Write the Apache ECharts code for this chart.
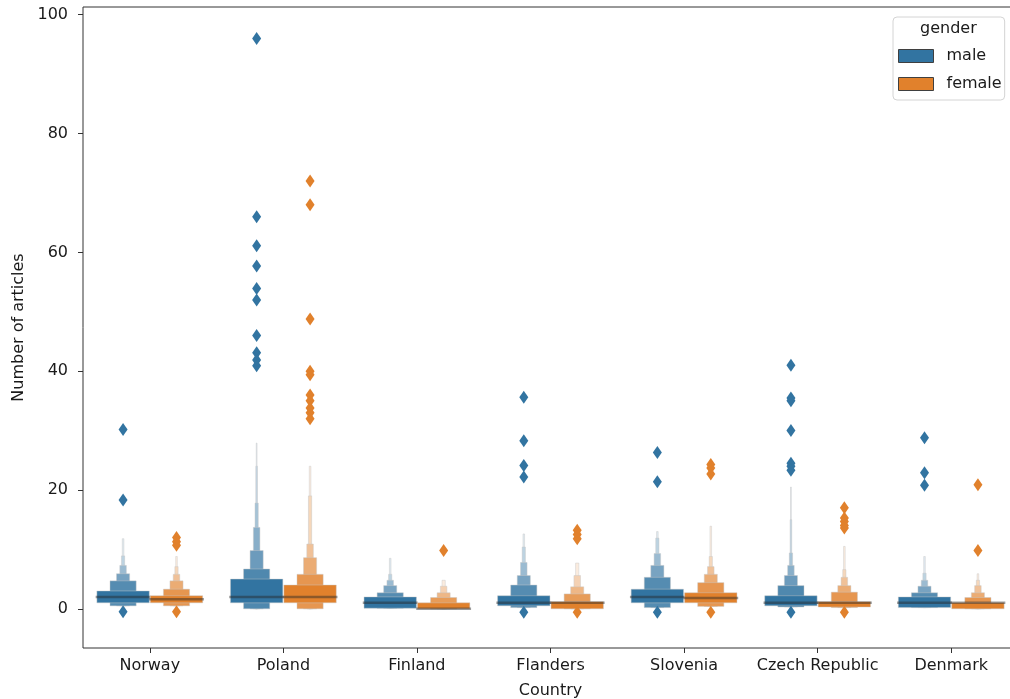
<!DOCTYPE html>
<html>
<head>
<meta charset="utf-8">
<script src="https://cdn.jsdelivr.net/npm/echarts@6/dist/echarts.min.js"></script>
<style>
  html, body { margin: 0; padding: 0; background: #fff; }
  #chart { width: 1010px; height: 699px; }
</style>
</head>
<body>
<div id="chart"></div>
<script>
// Countries on the x axis and the two hue groups
const countries = ['Norway', 'Poland', 'Finland', 'Flanders', 'Slovenia', 'Czech Republic', 'Denmark'];
const genders = ['male', 'female'];
const yTicks = [0, 20, 40, 60, 80, 100];

// Letter-value boxes per country, innermost (quartiles) first: [low, high]
const maleBoxes = [
  [[1, 3], [0.5, 4.7], [0.5, 5.9], [0.5, 7.3], [0.5, 8.9], [0.5, 11.8]],
  [[1, 5], [0, 6.7], [0, 9.8], [0, 13.7], [0, 17.8], [0, 24], [0, 27.9]],
  [[0.1, 2], [0.1, 2.7], [0.1, 3.9], [0.1, 4.8], [0.1, 5.8], [0.1, 8.5]],
  [[0.5, 2.2], [0.2, 4], [0.2, 5.6], [0.2, 7.8], [0.2, 10.4], [0.2, 12.6]],
  [[1, 3.3], [0.2, 5.3], [0.2, 7.3], [0.2, 9.3], [0.2, 11.9], [0.2, 13]],
  [[0.5, 2.2], [0.3, 3.9], [0.3, 5.6], [0.3, 7.3], [0.3, 9.4], [0.3, 15], [0.3, 20.5]],
  [[0.2, 2], [0.2, 2.7], [0.2, 3.8], [0.2, 4.8], [0.2, 6], [0.2, 8.8]]
];
const femaleBoxes = [
  [[1, 2.2], [0.5, 3.3], [0.5, 4.7], [0.5, 5.8], [0.5, 7.1], [0.5, 8.8]],
  [[1, 4], [0, 5.8], [0, 8.6], [0, 10.9], [0, 19], [0, 24]],
  [[0, 1], [0, 1.9], [0, 2.7], [0, 3.8], [0, 4.8]],
  [[0, 1.2], [0, 2.5], [0, 3.7], [0, 5.6], [0, 7.7]],
  [[1, 2.7], [0.4, 4.4], [0.4, 5.8], [0.4, 7.1], [0.4, 8.8], [0.4, 13.9]],
  [[0.3, 1.2], [0.2, 2.8], [0.2, 3.9], [0.2, 5.3], [0.2, 6.6], [0.2, 10.5]],
  [[0, 1], [0, 1.9], [0, 2.7], [0, 3.9], [0, 4.8], [0, 5.9]]
];

// Medians per country
const maleMedians = [2, 2, 1, 1, 2, 1, 1];
const femaleMedians = [1.6, 2, 0, 1, 1.8, 1, 1];

// Outlying observations per country
const maleOutliers = [
  [30.2, 18.3, -0.5],
  [96, 66, 61.1, 57.7, 53.9, 52, 46, 43.1, 41.9, 40.9],
  [],
  [35.6, 28.3, 24.1, 22.2, -0.6],
  [26.3, 21.4, -0.6],
  [41, 35.5, 35, 30, 24.5, 24, 23.3, -0.6],
  [28.8, 22.9, 20.8]
];
const femaleOutliers = [
  [12, 11.3, 10.7, -0.5],
  [72, 68, 48.8, 40, 39.4, 36, 35, 33.8, 33, 32],
  [9.8],
  [13.2, 12.5, 11.8, -0.6],
  [24.3, 23.7, 22.7, -0.6],
  [17, 15.3, 14.7, 14, 13.6, -0.6],
  [20.9, 9.8]
];

const MALE = '#3274a1';
const FEMALE = '#e1812c';
const EDGE_GRAY = '#3f3f3f';
const FONT = 'DejaVu Sans';
const TEXT = '#1a1a1a';
const NESTED = 0.392;   // width of one hue box, in category units
const DODGE = 0.2;      // hue offset from the category centre

function hexToRgb(h) {
  return [parseInt(h.slice(1, 3), 16), parseInt(h.slice(3, 5), 16), parseInt(h.slice(5, 7), 16)];
}
function towardWhite(hex, t) {
  const c = hexToRgb(hex).map(v => Math.round(v + (255 - v) * t));
  return 'rgb(' + c.join(',') + ')';
}

function boxenRenderer(boxesArr, medians, color, offset) {
  return function (params, api) {
    const ci = params.dataIndex;
    const boxes = boxesArr[ci];
    const cx = ci + offset;
    const fullW = api.size([NESTED, 0])[0];
    const n = boxes.length;
    const children = [];
    // outer boxes first, quartile box on top
    for (let j = n - 1; j >= 0; j--) {
      const w = fullW * Math.pow(2, -j);
      const top = api.coord([cx, boxes[j][1]]);
      const bot = api.coord([cx, boxes[j][0]]);
      children.push({
        type: 'rect',
        shape: { x: top[0] - w / 2, y: top[1], width: w, height: bot[1] - top[1] },
        style: {
          fill: towardWhite(color, n > 1 ? 0.85 * j / (n - 1) : 0),
          stroke: 'rgba(200,200,200,0.55)',
          lineWidth: 0.8
        }
      });
    }
    const m = api.coord([cx, medians[ci]]);
    children.push({
      type: 'line',
      shape: { x1: m[0] - fullW / 2, y1: m[1], x2: m[0] + fullW / 2, y2: m[1] },
      style: { stroke: 'rgba(38,38,38,0.45)', lineWidth: 2.5, lineCap: 'square' }
    });
    return { type: 'group', children: children };
  };
}

function outlierPoints(list, offset) {
  const pts = [];
  list.forEach((vals, ci) => vals.forEach(v => pts.push([ci + offset, v])));
  return pts;
}

const chart = echarts.init(document.getElementById('chart'), null, { renderer: 'canvas' });

const option = {
  animation: false,
  backgroundColor: '#fff',
  textStyle: { fontFamily: FONT },
  grid: {
    left: 83, right: -8, top: 7, bottom: 51,
    outerBoundsMode: 'none',
    containLabel: false,
    show: true, borderColor: '#333', borderWidth: 1, backgroundColor: 'transparent'
  },
  xAxis: [
    {
      type: 'category',
      data: countries,
      boundaryGap: true,
      position: 'bottom',
      axisLine: { show: false, onZero: false },
      axisTick: { show: true, alignWithLabel: true, length: 5, lineStyle: { color: '#333' } },
      axisLabel: { color: TEXT, fontSize: 16, fontFamily: FONT, margin: 10, interval: 0 },
      name: 'Country',
      nameLocation: 'middle',
      nameGap: 35,
      nameTextStyle: { color: TEXT, fontSize: 16, fontFamily: FONT }
    },
    {
      type: 'value',
      min: -0.5, max: countries.length - 0.5,
      position: 'bottom',
      axisLine: { onZero: false },
      show: false
    }
  ],
  yAxis: {
    type: 'value',
    min: -6.6,
    max: 101.3,
    position: 'left',
    splitLine: { show: false },
    axisLine: { show: false, onZero: false },
    axisTick: { show: true, length: 5, customValues: yTicks, lineStyle: { color: '#333' } },
    axisLabel: { color: TEXT, fontSize: 16, fontFamily: FONT, margin: 15, customValues: yTicks },
    name: 'Number of articles',
    nameLocation: 'middle',
    nameGap: 54,
    nameTextStyle: { color: TEXT, fontSize: 16, fontFamily: FONT }
  },
  legend: {
    orient: 'vertical',
    left: 893,
    top: 17,
    selectedMode: false,
    icon: 'rect',
    itemWidth: 35,
    itemHeight: 13,
    itemGap: 12,
    padding: [31, 3, 8, 5],
    backgroundColor: '#fff',
    borderColor: '#d4d4d4',
    borderWidth: 1,
    borderRadius: 4,
    textStyle: { color: TEXT, fontSize: 16, fontFamily: FONT, padding: [0, 0, 0, 8] },
    data: [
      { name: genders[0], itemStyle: { color: MALE, borderColor: EDGE_GRAY, borderWidth: 1 } },
      { name: genders[1], itemStyle: { color: FEMALE, borderColor: EDGE_GRAY, borderWidth: 1 } }
    ]
  },
  graphic: [
    {
      type: 'text',
      left: 920,
      top: 21,
      z: 100,
      style: { text: 'gender', fill: TEXT, fontSize: 16, fontFamily: FONT }
    }
  ],
  series: [
    {
      name: genders[0],
      type: 'custom',
      xAxisIndex: 1,
      renderItem: boxenRenderer(maleBoxes, maleMedians, MALE, -DODGE),
      data: maleMedians.map((m, i) => [i - DODGE, m]),
      encode: { x: 0, y: 1 },
      itemStyle: { color: MALE },
      z: 2
    },
    {
      name: genders[1],
      type: 'custom',
      xAxisIndex: 1,
      renderItem: boxenRenderer(femaleBoxes, femaleMedians, FEMALE, DODGE),
      data: femaleMedians.map((m, i) => [i + DODGE, m]),
      encode: { x: 0, y: 1 },
      itemStyle: { color: FEMALE },
      z: 2
    },
    {
      name: genders[0],
      type: 'scatter',
      xAxisIndex: 1,
      symbol: 'diamond',
      symbolSize: [9, 13],
      itemStyle: { color: MALE, opacity: 1 },
      data: outlierPoints(maleOutliers, -DODGE),
      z: 3
    },
    {
      name: genders[1],
      type: 'scatter',
      xAxisIndex: 1,
      symbol: 'diamond',
      symbolSize: [9, 13],
      itemStyle: { color: FEMALE, opacity: 1 },
      data: outlierPoints(femaleOutliers, DODGE),
      z: 3
    }
  ]
};

chart.setOption(option);
</script>
</body>
</html>
